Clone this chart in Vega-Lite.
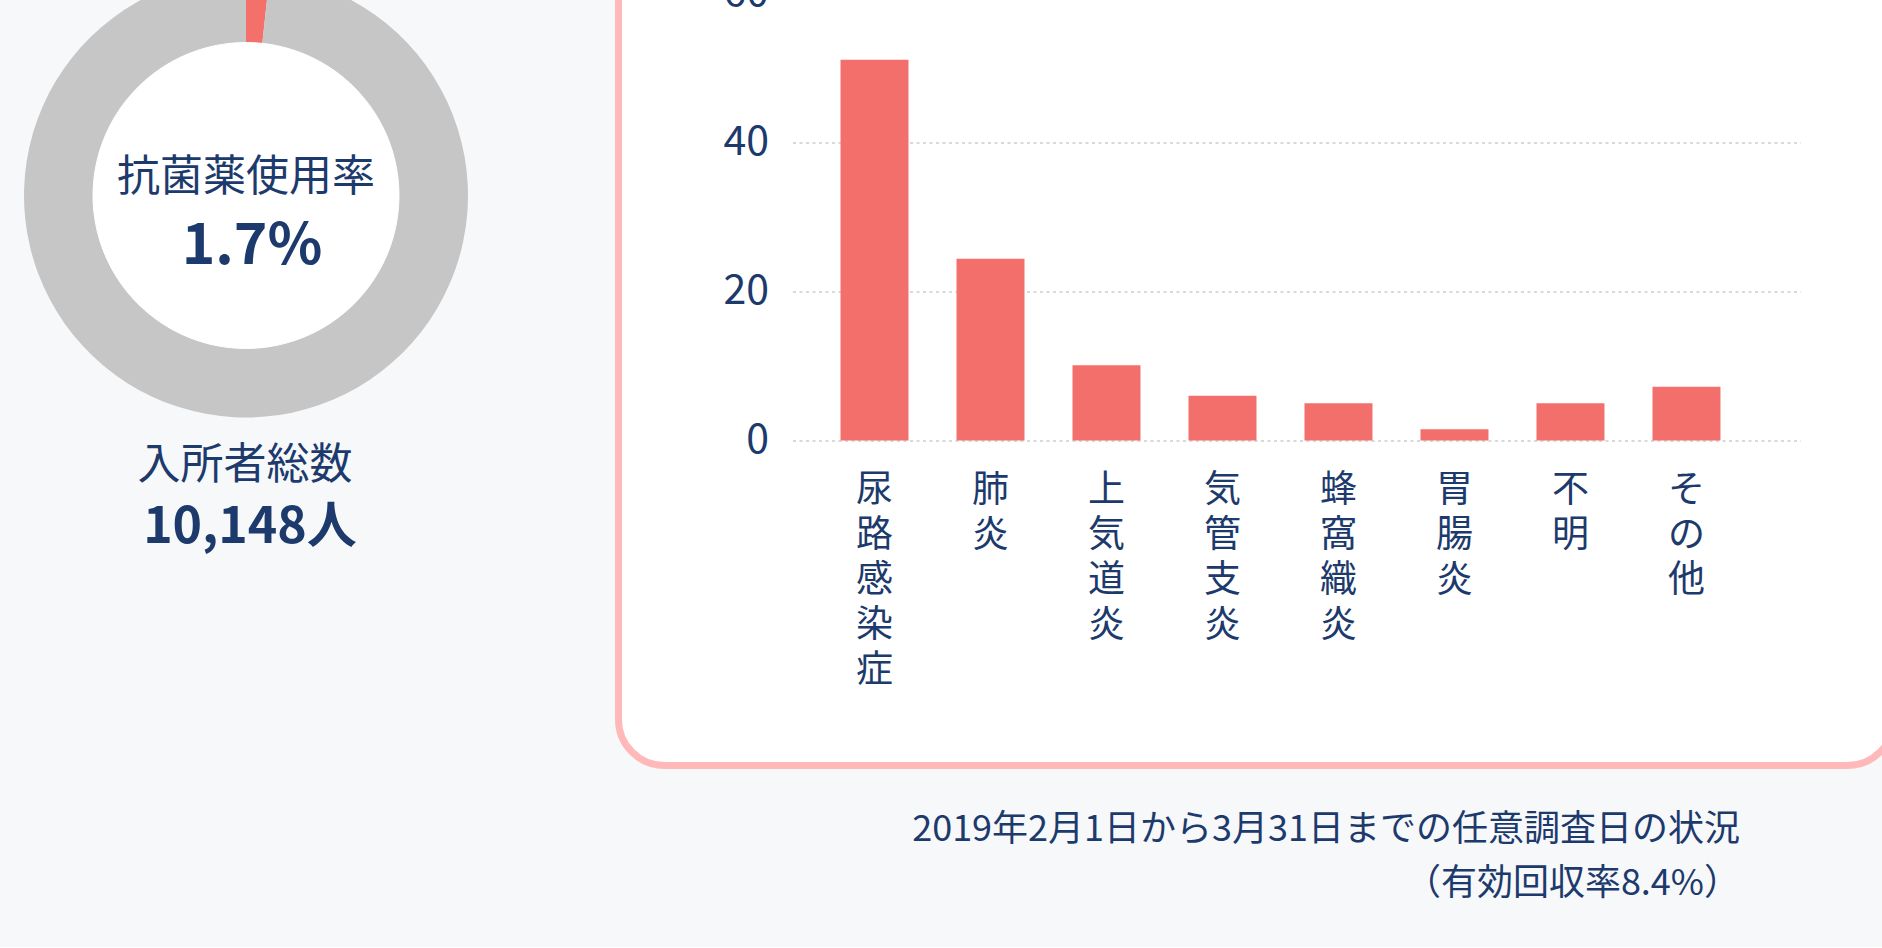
{
  "$schema": "https://vega.github.io/schema/vega-lite/v6.json",
  "background": "#f7f8fa",
  "padding": {"left": 0, "top": -63.5, "right": -14.5, "bottom": 44},
  "autosize": {"type": "pad"},
  "config": {
    "font": "Noto Sans CJK JP",
    "view": {"stroke": null},
    "text": {"font": "Noto Sans CJK JP", "color": "#1d3a6d"}
  },
  "spacing": 122.5,
  "title": {
    "text": ["2019年2月1日から3月31日までの任意調査日の状況", "（有効回収率8.4%）"],
    "orient": "bottom",
    "anchor": "end",
    "align": "right",
    "dx": -157,
    "offset": 44,
    "fontSize": 36,
    "fontWeight": "normal",
    "color": "#1d3a6d",
    "lineHeight": 54,
    "font": "Noto Sans CJK JP"
  },
  "hconcat": [
    {
      "width": 492,
      "height": 510,
      "view": {"stroke": null},
      "data": {"values": [
        {"区分": "抗菌薬使用", "割合": 1.7},
        {"区分": "抗菌薬未使用", "割合": 98.3}
      ]},
      "layer": [
        {
          "mark": {"type": "arc", "radius": 222},
          "encoding": {
            "theta": {"field": "割合", "type": "quantitative", "stack": true},
            "color": {"field": "区分", "type": "nominal", "scale": {"domain": ["抗菌薬使用", "抗菌薬未使用"], "range": ["#f3706b", "#c6c6c6"]}, "legend": null},
            "order": {"field": "区分", "sort": "ascending"}
          }
        },
        {
          "mark": {"type": "arc", "radius": 153, "fill": "#ffffff", "stroke": "#ffffff", "strokeWidth": 1},
          "encoding": {
            "theta": {"field": "割合", "type": "quantitative", "stack": true}
          }
        },
        {
          "data": {"values": [{"見出し": "抗菌薬使用率"}]},
          "mark": {"type": "text", "fontSize": 43, "baseline": "alphabetic", "align": "center", "dy": -5, "color": "#1d3a6d"},
          "encoding": {"text": {"field": "見出し"}}
        },
        {
          "data": {"values": [{"使用率": "1.7%"}]},
          "mark": {"type": "text", "fontSize": 57, "fontWeight": "bold", "baseline": "alphabetic", "align": "center", "dy": 68, "dx": 6, "color": "#1d3a6d"},
          "encoding": {"text": {"field": "使用率"}}
        },
        {
          "data": {"values": [{"見出し": "入所者総数"}]},
          "mark": {"type": "text", "fontSize": 43, "baseline": "alphabetic", "align": "center", "dy": 283, "dx": -1, "color": "#1d3a6d"},
          "encoding": {"text": {"field": "見出し"}}
        },
        {
          "data": {"values": [{"人数": "10,148人"}]},
          "mark": {"type": "text", "fontSize": 50, "fontWeight": "bold", "baseline": "alphabetic", "align": "center", "dy": 347, "dx": 4, "color": "#1d3a6d"},
          "encoding": {"text": {"field": "人数"}}
        }
      ]
    },
    {
      "width": 1275,
      "height": 825,
      "view": {"fill": "#ffffff", "stroke": "#ffb9b9", "strokeWidth": 7, "cornerRadius": 46},
      "data": {"values": [
        {"感染症": "尿路感染症", "割合": 51.1},
        {"感染症": "肺炎", "割合": 24.4},
        {"感染症": "上気道炎", "割合": 10.1},
        {"感染症": "気管支炎", "割合": 6.0},
        {"感染症": "蜂窩織炎", "割合": 5.0},
        {"感染症": "胃腸炎", "割合": 1.5},
        {"感染症": "不明", "割合": 5.0},
        {"感染症": "その他", "割合": 7.2}
      ]},
      "mark": {"type": "bar", "color": "#f36f6c"},
      "encoding": {
        "x": {
          "field": "感染症",
          "type": "nominal",
          "sort": null,
          "scale": {"range": [174, 1182], "paddingInner": 0.414, "paddingOuter": 0.552, "align": 0.375},
          "axis": {
            "title": null,
            "orient": "bottom",
            "offset": -325,
            "domain": false,
            "ticks": false,
            "grid": false,
            "labelAngle": 0,
            "labelAlign": "center",
            "labelBaseline": "top",
            "labelPadding": 32,
            "labelFontSize": 37,
            "labelLineHeight": 45,
            "labelColor": "#1d3a6d",
            "labelFont": "Noto Sans CJK JP",
            "labelOverlap": false,
            "labelBound": false,
            "labelExpr": "split(datum.label, '')"
          }
        },
        "y": {
          "field": "割合",
          "type": "quantitative",
          "scale": {"domain": [0, 60], "range": [500, 53], "nice": false, "zero": true},
          "axis": {
            "title": null,
            "orient": "left",
            "offset": -174,
            "domain": false,
            "ticks": false,
            "values": [0, 20, 40, 60],
            "labelPadding": 24,
            "labelFontSize": 41,
            "labelColor": "#1d3a6d",
            "labelFont": "Noto Sans CJK JP",
            "grid": true,
            "gridColor": "#d9d9d9",
            "gridWidth": 2,
            "gridDash": [3, 3.5]
          }
        }
      }
    }
  ]
}
